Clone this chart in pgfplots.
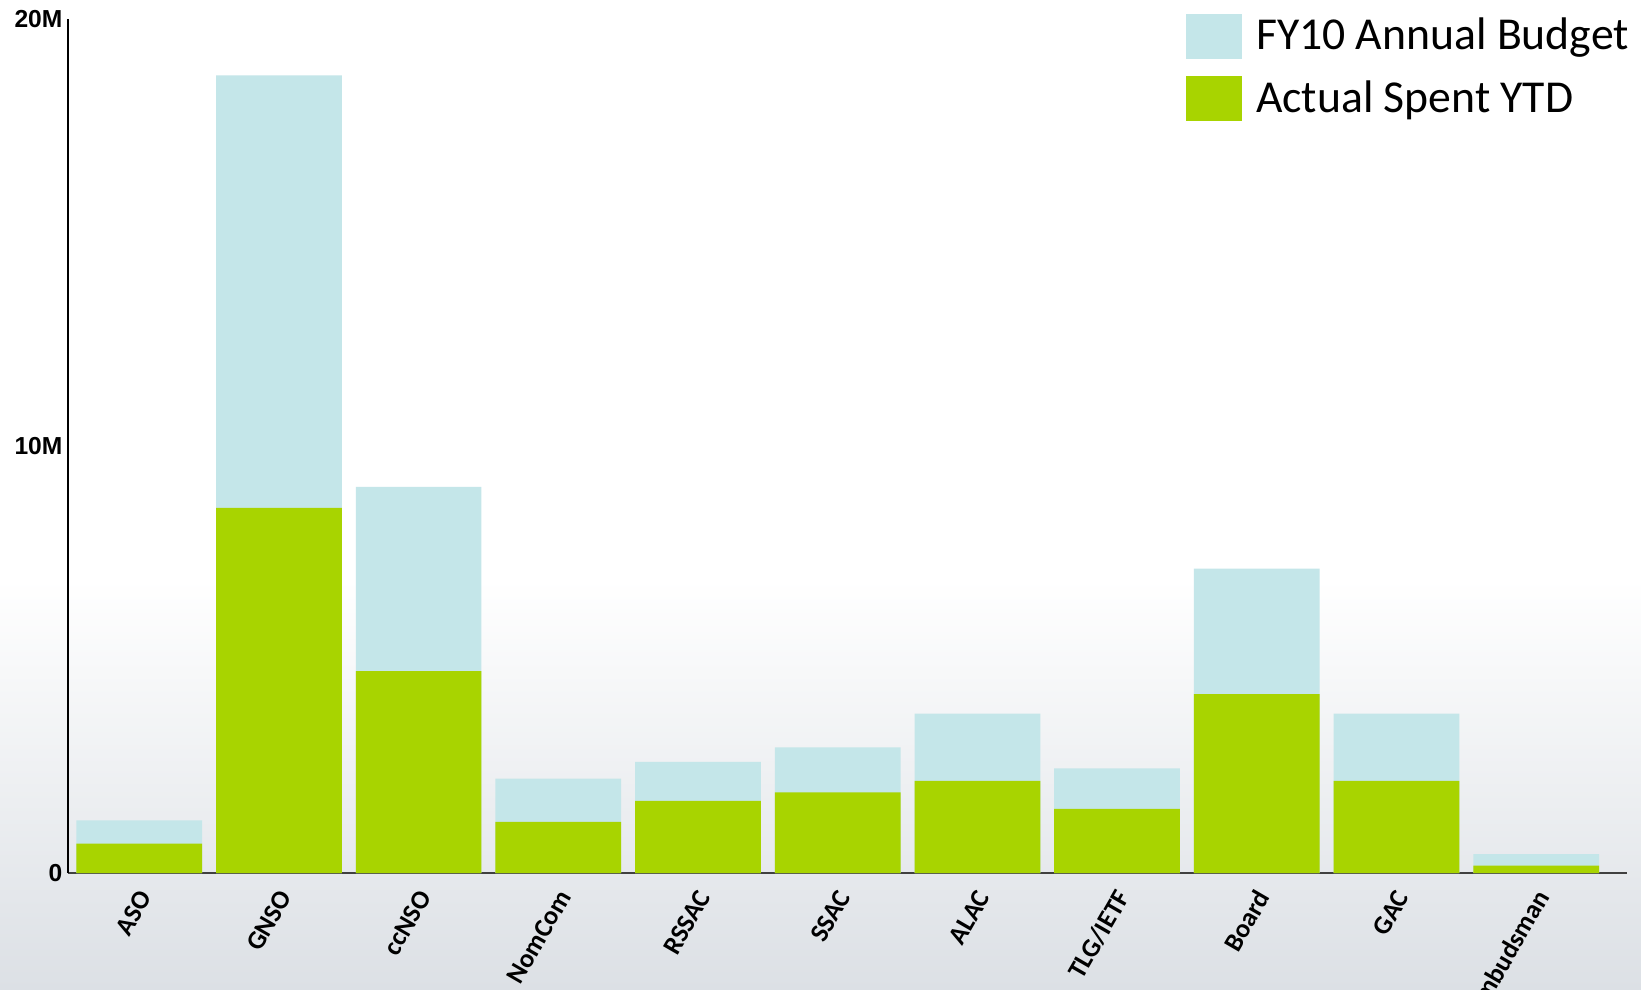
\documentclass[border=0pt]{standalone}
\usepackage{pgfplots}
\pgfplotsset{compat=1.18}
\usepackage{pgfplotstable}
\usepackage{fontspec}
\setmainfont{Carlito}
\newfontfamily\arialfont{Liberation Sans}
\definecolor{budget}{HTML}{C4E6E9}
\definecolor{spent}{HTML}{A8D400}
\definecolor{bgbot}{HTML}{DCE0E5}

\pgfplotstableread{
x budget spent
0 1.23 0.69
1 18.68 8.55
2 9.04 4.73
3 2.21 1.20
4 2.60 1.69
5 2.94 1.89
6 3.73 2.16
7 2.45 1.50
8 7.13 4.19
9 3.73 2.16
10 0.44 0.17
}\data

\begin{document}
\begin{tikzpicture}
\clip (0,0) rectangle (16.41cm,9.89cm);
\useasboundingbox (0,0) rectangle (16.41cm,9.89cm);
\fill[white] (0,0) rectangle (16.41cm,9.89cm);
\shade[top color=white, bottom color=bgbot] (0,0) rectangle (16.41cm,4.1cm);
\begin{axis}[
  at={(0.68cm,1.16cm)}, anchor=south west,
  width=15.59cm, height=8.54cm, scale only axis,
  xmin=-0.51, xmax=10.65, ymin=0, ymax=20,
  axis x line*=bottom, axis y line*=left,
  axis line style={-},
  x axis line style={draw=black!75, line width=0.7pt},
  y axis line style={draw=black, line width=0.6pt},
  xtick={0,...,10},
  xticklabels={ASO,GNSO,ccNSO,NomCom,RSSAC,SSAC,ALAC,TLG/IETF,Board,GAC,Ombudsman},
  ytick={0,10,20}, yticklabels={0,10M,20M},
  major tick length=0pt,
  xticklabel style={font=\bfseries\fontsize{7.5}{9}\selectfont, rotate=60, anchor=east, inner sep=0pt, yshift=-4.3pt, xshift=-3.8pt},
  yticklabel style={font=\arialfont\bfseries\fontsize{7}{8}\selectfont, inner sep=0pt, xshift=-1.4pt},
  legend style={at={(0.717,1.006)}, anchor=north west, draw=none, fill=none, inner sep=0pt, outer sep=0pt,
    font=\fontsize{13}{15}\selectfont, row sep=5pt, nodes={inner sep=1pt}, cells={anchor=west},
    /tikz/every odd column/.append style={column sep=3pt}},
  legend cell align=left,
  legend image code/.code={\fill[#1] (0pt,-6.4pt) rectangle (16pt,6.4pt);},
]
\addplot[ybar, bar width=0.9, bar shift=0pt, fill=budget, draw=none] table[x=x,y=budget]{\data};
\addplot[ybar, bar width=0.9, bar shift=0pt, fill=spent, draw=none] table[x=x,y=spent]{\data};
\legend{FY10 Annual Budget, Actual Spent YTD}
\end{axis}
\end{tikzpicture}
\end{document}
